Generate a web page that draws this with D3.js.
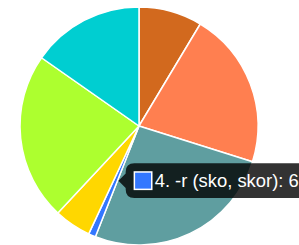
<!DOCTYPE html>
<html>
<head>
<meta charset="utf-8">
<script src="https://cdn.jsdelivr.net/npm/d3@7"></script>
<style>
  html, body { margin: 0; padding: 0; background: #fff; }
  svg { display: block; }
  .tip-text { font-family: "Liberation Sans", Helvetica, Arial, sans-serif; fill: #fff; }
</style>
</head>
<body>
<svg id="chart" width="299" height="245"></svg>
<script>
  // slices, clockwise from 12 o'clock
  const labels = ['-or (flicka, flickor)', '-ar (bil, bilar)', '-er (katt, katter)', '-r (sko, skor)',
                  '-n (äpple, äpplen)', '- (hus, hus)', 'oregelbundna'];
  const values = [62, 153, 188, 7, 36, 164, 110];
  const colors = ['#d2691e', '#ff7f50', '#5f9ea0', '#3377ff', '#ffd700', '#adff2f', '#00ced1'];
  const activeIndex = 3;

  const W = 299, H = 245;
  const cx = 139, cy = 126, radius = 119;
  const s = 1.45; // tooltip scale

  const svg = d3.select('#chart');
  const g = svg.append('g').attr('transform', `translate(${cx},${cy})`);

  const pie = d3.pie().sort(null).value(d => d)(values);
  const arc = d3.arc().innerRadius(0).outerRadius(radius);

  g.selectAll('path.slice')
    .data(pie)
    .join('path')
    .attr('class', 'slice')
    .attr('d', arc)
    .attr('fill', (d, i) => colors[i])
    .attr('stroke', '#fff')
    .attr('stroke-width', 1.5)
    .attr('stroke-linejoin', 'round');

  // tooltip (Chart.js style), anchored at slice centroid
  const [ax, ay] = arc.centroid(pie[activeIndex]);
  const anchorX = cx + ax, anchorY = cy + ay;
  const pad = 6 * s, caret = 5 * s, caretPad = 2 * s, rad = 6 * s;
  const fontSize = 18.4, boxSize = 12 * s;
  const tipH = 12 * s + pad * 2;
  const tipText = `${activeIndex + 1}. ${labels[activeIndex]}: 6`;

  const tip = svg.append('g');
  const txt = tip.append('text')
    .attr('class', 'tip-text')
    .style('font-size', fontSize + 'px')
    .text(tipText);
  const textW = txt.node().getComputedTextLength();
  const tipW = pad * 2 + boxSize + 2 * s + textW + 40;

  const x0 = anchorX + caretPad + caret, y0 = anchorY - tipH / 2;
  const p = d3.path();
  p.moveTo(x0 + rad, y0);
  p.lineTo(x0 + tipW - rad, y0);
  p.quadraticCurveTo(x0 + tipW, y0, x0 + tipW, y0 + rad);
  p.lineTo(x0 + tipW, y0 + tipH - rad);
  p.quadraticCurveTo(x0 + tipW, y0 + tipH, x0 + tipW - rad, y0 + tipH);
  p.lineTo(x0 + rad, y0 + tipH);
  p.quadraticCurveTo(x0, y0 + tipH, x0, y0 + tipH - rad);
  p.lineTo(x0, anchorY + caret);
  p.lineTo(x0 - caret, anchorY);
  p.lineTo(x0, anchorY - caret);
  p.lineTo(x0, y0 + rad);
  p.quadraticCurveTo(x0, y0, x0 + rad, y0);
  p.closePath();

  tip.insert('path', 'text')
    .attr('d', p.toString())
    .attr('fill', 'rgba(0,0,0,0.8)');

  tip.insert('rect', 'text')
    .attr('x', x0 + pad).attr('y', y0 + pad)
    .attr('width', boxSize).attr('height', boxSize)
    .attr('fill', colors[activeIndex])
    .attr('stroke', '#fff')
    .attr('stroke-width', 1.5);

  txt.attr('x', x0 + pad + boxSize + 2 * s)
    .attr('y', anchorY)
    .attr('dominant-baseline', 'central');
</script>
</body>
</html>
